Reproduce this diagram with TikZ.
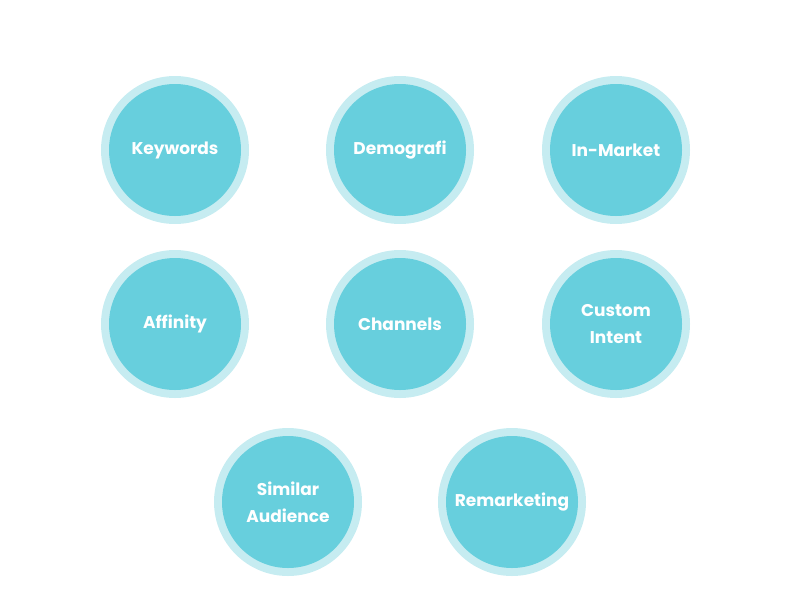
\documentclass[tikz,border=0pt]{standalone}
\usepackage{fontspec}
\setmainfont{Poppins}
\definecolor{ringblue}{HTML}{C6ECF1}
\definecolor{discblue}{HTML}{67CFDD}
\begin{document}
\begin{tikzpicture}
  [x=1pt, y=-1pt]
  \tikzstyle{ring} = [circle, fill=ringblue, minimum size=148pt, inner sep=0pt];
  \tikzstyle{disc} = [circle, fill=discblue, minimum size=132pt, inner sep=0pt,
                      text=white, font=\fontsize{17}{27}\selectfont\bfseries, align=center];

  \useasboundingbox (0, 0) rectangle (800, 600);

  \node[ring] (keywords_ring)  at (175, 150) {};
  \node[disc] (keywords)       at (175, 150) {Keywords};

  \node[ring] (demografi_ring) at (400, 150) {};
  \node[disc] (demografi)      at (400, 150) {Demografi};

  \node[ring] (inmarket_ring)  at (616, 150) {};
  \node[disc] (inmarket)       at (616, 150) {In-Market};

  \node[ring] (affinity_ring)  at (175, 324) {};
  \node[disc] (affinity)       at (175, 324) {Affinity};

  \node[ring] (channels_ring)  at (400, 324) {};
  \node[disc] (channels)       at (400, 324) {Channels};

  \node[ring] (intent_ring)    at (616, 324) {};
  \node[disc] (intent)         at (616, 324) {Custom\\Intent};

  \node[ring] (similar_ring)   at (288, 502) {};
  \node[disc] (similar)        at (288, 502) {Similar\\Audience};

  \node[ring] (remarket_ring)  at (512, 502) {};
  \node[disc] (remarket)       at (512, 502) {Remarketing};

\end{tikzpicture}
\end{document}
